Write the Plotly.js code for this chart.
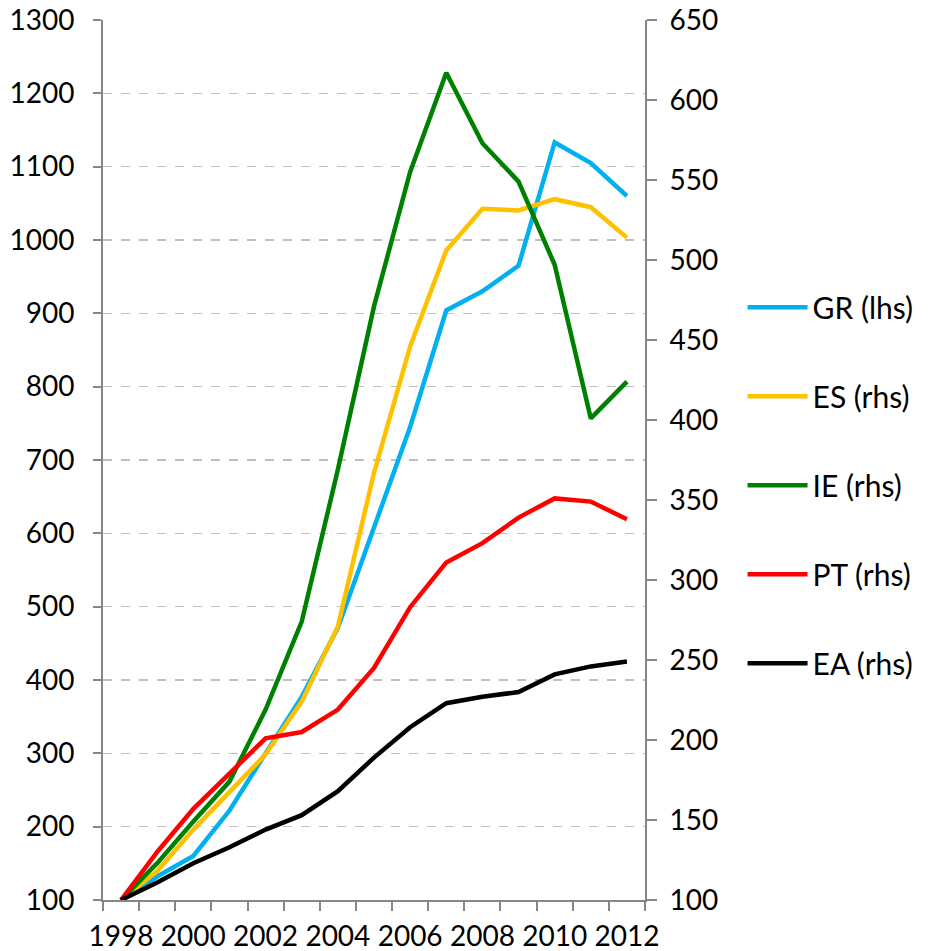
<!DOCTYPE html>
<html>
<head>
<meta charset="utf-8">
<script src="https://cdn.plot.ly/plotly-3.0.1.min.js"></script>
<style>html,body{margin:0;padding:0;background:#fff;}#chart{width:932px;height:951px;}</style>
</head>
<body>
<div id="chart"></div>
<script>
const years = [1998,1999,2000,2001,2002,2003,2004,2005,2006,2007,2008,2009,2010,2011,2012];
const GR = [100,132,160,222,300,377,471,610,745,904,930,965,1133,1105,1060];
const ES = [100,118,144,168,191,224,271,367,446,506,532,531,538,533,514];
const IE = [100,123,149,174,219,274,369,471,555,617,573,549,497,401,424];
const PT = [100,130,157,179,201,205,219,245,283,311,323,339,351,349,338];
const EA = [100,111,123,133,144,153,168,189,208,223,227,230,241,246,249];
const labelYears = [1998,2000,2002,2004,2006,2008,2010,2012];

const FONT = 'Lato, "Open Sans", sans-serif';
const AX = '#868686';

function tr(name, y, color, axis){
  return {x: years, y: y, name: name, type: 'scatter', mode: 'lines',
    yaxis: axis, legendgroup: name,
    line: {color: color, width: 4.5}, hoverinfo: 'skip'};
}
const data = [
  tr('GR (lhs)', GR, '#00B0F0', 'y'),
  tr('ES (rhs)', ES, '#FFC000', 'y2'),
  tr('IE (rhs)', IE, '#008000', 'y2'),
  tr('PT (rhs)', PT, '#FF0000', 'y2'),
  tr('EA (rhs)', EA, '#000000', 'y2')
];
const layout = {
  width: 932, height: 951,
  margin: {l: 103, r: 287, t: 20, b: 51},
  paper_bgcolor: '#fff', plot_bgcolor: '#fff',
  font: {family: FONT, size: 28, color: '#000'},
  showlegend: true,
  legend: {x: 1.18, xanchor: 'left', y: 0.703, yanchor: 'top',
    font: {family: FONT, size: 30, color: '#000'}, tracegroupgap: 47,
    itemwidth: 60, bgcolor: 'rgba(0,0,0,0)'},
  xaxis: {type: 'linear', range: [1997.5, 2012.5], tickvals: labelYears,
    ticks: '', showgrid: false, zeroline: false, showline: true,
    linecolor: AX, linewidth: 2, ticklabelstandoff: 10,
    tickfont: {family: FONT, size: 28},
    minor: {tick0: 1997.5, dtick: 1, ticks: 'outside', ticklen: 9,
      tickwidth: 2, tickcolor: AX, showgrid: false}},
  yaxis: {range: [100, 1300], dtick: 100, tick0: 100, showgrid: true,
    gridcolor: '#BFBFBF', gridwidth: 1.5, griddash: 'dash', zeroline: false,
    showline: true, linecolor: AX, linewidth: 2, ticks: 'outside', ticklen: 8,
    tickwidth: 2, tickcolor: AX, ticklabelstandoff: 13,
    tickfont: {family: FONT, size: 28}},
  yaxis2: {range: [100, 650], dtick: 50, tick0: 100, overlaying: 'y', side: 'right',
    showgrid: false, zeroline: false, showline: true, linecolor: AX, linewidth: 2,
    ticks: 'outside', ticklen: 10, tickwidth: 2, tickcolor: AX, ticklabelstandoff: 7,
    tickfont: {family: FONT, size: 28}}
};
Plotly.newPlot('chart', data, layout, {displayModeBar: false, staticPlot: true});
</script>
</body>
</html>
